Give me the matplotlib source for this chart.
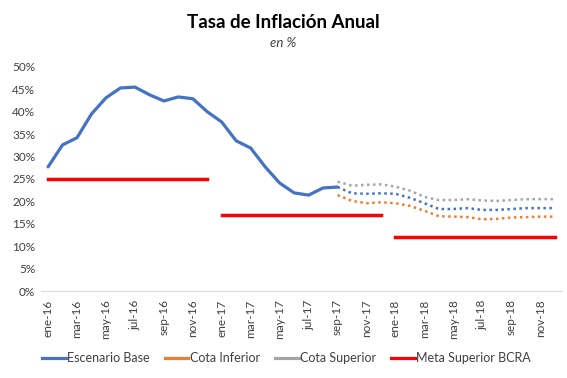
import numpy as np
import matplotlib.pyplot as plt

plt.rcParams['font.family'] = ['Lato', 'DejaVu Sans']

meses = ['ene', 'feb', 'mar', 'abr', 'may', 'jun', 'jul', 'ago', 'sep', 'oct', 'nov', 'dic']
fechas = [m + '-' + a for a in ['16', '17', '18'] for m in meses]

# escenario base observado (ene-16 .. sep-17)
base_obs = [27.7, 32.6, 34.2, 39.5, 43.1, 45.3, 45.5, 43.8, 42.4, 43.3, 42.9, 40.0,
            37.7, 33.5, 31.9, 27.7, 24.1, 21.9, 21.4, 23.0, 23.2]
# proyecciones (sep-17 .. dic-18)
base_proy = [23.2, 21.8, 21.7, 21.8, 21.7, 20.8, 19.6, 18.3, 18.3, 18.5, 18.1, 18.1,
             18.3, 18.5, 18.5, 18.5]
cota_inf = [21.4, 20.1, 19.6, 19.8, 19.6, 19.0, 17.9, 16.7, 16.6, 16.5, 16.0, 16.1,
            16.4, 16.5, 16.6, 16.6]
cota_sup = [24.4, 23.5, 23.7, 23.8, 23.3, 22.4, 21.0, 20.3, 20.3, 20.5, 20.2, 20.1,
            20.3, 20.5, 20.5, 20.5]
meta_bcra = [25] * 12 + [17] * 12 + [12] * 12

x = np.arange(len(fechas))
ini_proy = len(base_obs) - 1
punteado = (0, (1, 1.4))

fig = plt.figure(figsize=(5.67, 3.78), dpi=100)
ax = fig.add_axes([0.072, 0.23, 0.919, 0.593])

ax.plot(x[:len(base_obs)], base_obs, color='#4472C4', lw=2.3, solid_capstyle='round')
ax.plot(x[ini_proy:], base_proy, color='#4472C4', lw=1.8, linestyle=punteado)
ax.plot(x[ini_proy:], cota_inf, color='#ED7D31', lw=1.8, linestyle=punteado)
ax.plot(x[ini_proy:], cota_sup, color='#A5A5A5', lw=1.8, linestyle=punteado)

# meta: un tramo por año
for i in range(0, len(meta_bcra), 12):
    ax.plot(x[i:i + 12], meta_bcra[i:i + 12], color='#FF0000', lw=2.5)

# leyenda
ax.plot([], [], color='#4472C4', lw=2.3, label='Escenario Base')
ax.plot([], [], color='#ED7D31', lw=2.3, label='Cota Inferior')
ax.plot([], [], color='#A5A5A5', lw=2.3, label='Cota Superior')
ax.plot([], [], color='#FF0000', lw=2.3, label='Meta Superior BCRA')

ax.set_xlim(-0.5, len(fechas) - 0.5)
ax.set_ylim(0, 50)
ax.set_yticks(range(0, 51, 5))
ax.set_yticklabels([f'{v}%' for v in range(0, 51, 5)], fontsize=8.5, color='#404040')
ax.set_xticks(x[::2])
ax.set_xticklabels(fechas[::2], rotation=90, fontsize=8.5, color='#404040')
ax.tick_params(length=0, pad=6)
ax.tick_params(axis='y', pad=4)

for s in ['top', 'right', 'left']:
    ax.spines[s].set_visible(False)
ax.spines['bottom'].set_color('#D9D9D9')

fig.text(0.5, 0.94, 'Tasa de Inflación Anual', ha='center', va='center', fontsize=13.5, fontweight='bold')
fig.text(0.5, 0.885, 'en %', ha='center', va='center', fontsize=9.5, style='italic', color='#404040')

fig.legend(loc='center', bbox_to_anchor=(0.505, 0.053), ncol=4, frameon=False, fontsize=9,
           handlelength=1.9, handletextpad=0.1, columnspacing=1.2, labelcolor='#404040')

fig.savefig('out.png', dpi=100)
